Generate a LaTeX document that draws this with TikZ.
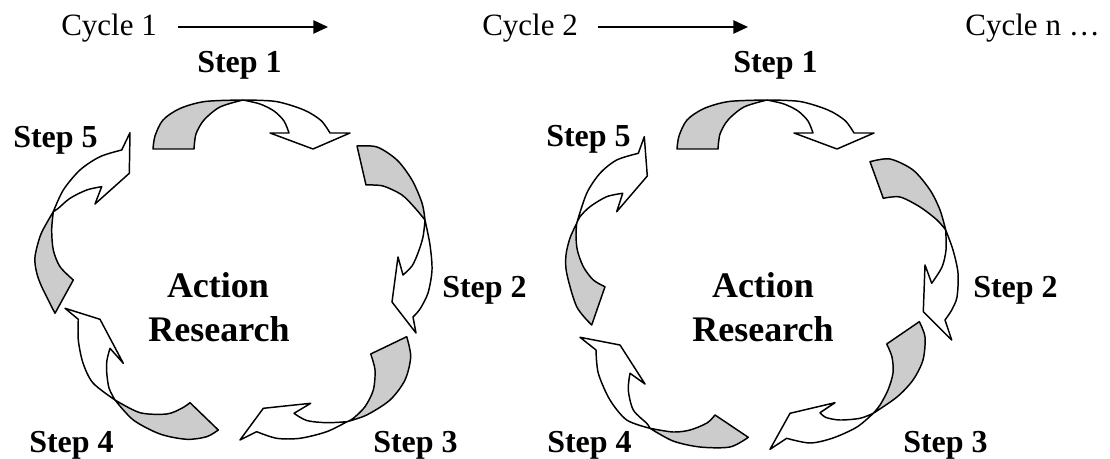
\documentclass[tikz,border=0pt]{standalone}
\usepackage{fontspec}
\setmainfont{Liberation Serif}
\usetikzlibrary{arrows.meta}
\begin{document}
\begin{tikzpicture}[x=0.75pt,y=-0.75pt,
  back/.style={draw=black,line width=1.1pt,line join=round,fill=black!20},
  front/.style={draw=black,line width=1.1pt,line join=round,fill=white},
  steplabel/.style={font=\fontsize{24}{28}\selectfont\bfseries,inner sep=0pt,anchor=base west},
  centerlabel/.style={font=\fontsize{27}{32}\selectfont\bfseries,inner sep=0pt,anchor=base},
  cyclelabel/.style={font=\fontsize{23.25}{28}\selectfont,inner sep=0pt,anchor=base west},
  cyclearrow/.style={line width=1.1pt,-{Triangle[length=11pt,width=10pt]}}]
\useasboundingbox (0,0) rectangle (1110,459);

% ---------- top row ----------
\node[cyclelabel] (cy1) at (61,36) {Cycle 1};
\node[cyclelabel] (cy2) at (482,36) {Cycle 2};
\node[cyclelabel,anchor=base east] (cyn) at (1100,36) {Cycle n \ldots};
\coordinate (a1s) at (178,27);
\coordinate (a1e) at (328,27);
\coordinate (a2s) at (598,27);
\coordinate (a2e) at (748,27);
\draw[cyclearrow] (a1s) -- (a1e);
\draw[cyclearrow] (a2s) -- (a2e);

% ---------- circle 1 ----------
% arrow 1
\path[back] plot[smooth] coordinates {(243,100) (205,101.5) (180,108.5) (163,120) (155,136) (153,149)}
  -- (194,149) -- plot[smooth] coordinates {(194,149) (196,134) (204,120) (220,107) (243,100)} -- cycle;
\path[front] plot[smooth] coordinates {(243,100) (276,101.5) (304,110) (321,120.5) (330,133)}
  -- (350,133) -- (313,149) -- (270,133) -- (289,133)
  -- plot[smooth] coordinates {(289,133) (284,121) (274,111) (260,104) (243,100)} -- cycle;
% arrow 2
\path[back] plot[smooth] coordinates {(425,220) (422,203) (412,180) (397,160) (377,147) (357,146)}
  -- (366,185) -- plot[smooth] coordinates {(366,185) (383,186) (402,195) (415,208) (425,220)} -- cycle;
\path[front] plot[smooth] coordinates {(425,220) (430,245) (432,270) (428,293) (420,309) (413,317)}
  -- (416,333) -- (392,302) -- (398,257) -- (403,275)
  -- plot[smooth] coordinates {(403,275) (412,266) (418,253) (423,237) (425,220)} -- cycle;
% arrow 3
\path[back] plot[smooth] coordinates {(347,421.7) (366.7,415) (390,400) (405,380) (410.7,356.7) (406.7,336.7)}
  -- (370.7,354) -- plot[smooth] coordinates {(370.7,354) (375,370) (373.3,390) (365,406.7) (353.3,418.3) (347,421.7)} -- cycle;
\path[front] plot[smooth] coordinates {(347,421.7) (326.7,431.7) (300,438.3) (276.7,438.3) (256.7,431.7)}
  -- (240,440) -- (263.3,408.3) -- (310.7,403.3) -- (294,413.3)
  -- plot[smooth] coordinates {(294,413.3) (306.7,420.5) (326.7,422.7) (347,421.7)} -- cycle;
% arrow 4
\path[back] plot[smooth] coordinates {(115,400) (140,412.7) (166.7,414) (181.7,408.3) (190,402.7)}
  -- (218.3,430) -- plot[smooth] coordinates {(218.3,430) (206.7,436.7) (186.7,439.3) (160,434) (133.3,420) (115,400)} -- cycle;
\path[front] plot[smooth] coordinates {(115,400) (93,383) (83,363) (78.3,340) (78.3,319.3)}
  -- (65,308.3) -- (100,319.3) -- (123.3,363.3) -- (110,348.3)
  -- plot[smooth] coordinates {(110,348.3) (107,360) (106.7,372) (109,388) (115,400)} -- cycle;
% arrow 5
\path[back] plot[smooth] coordinates {(53.3,211.7) (41,234) (35,256.7) (36.5,272) (41.7,286.7) (55,313.3)}
  -- (73.3,280) -- plot[smooth] coordinates {(73.3,280) (60,266.7) (53.3,250) (51.7,230) (53.3,211.7)} -- cycle;
\path[front] plot[smooth] coordinates {(53.3,211.7) (63.3,190) (80,170) (100,156.7) (121.7,150)}
  -- (130,132.7) -- (129.3,173.3) -- (95,204) -- (101.7,186.7)
  -- plot[smooth] coordinates {(101.7,186.7) (86.7,190) (70,198.3) (58.3,208.3) (53.3,211.7)} -- cycle;

\node[steplabel] (s11) at (197,73) {Step 1};
\node[steplabel] (s12) at (442,298) {Step 2};
\node[steplabel] (s13) at (373,452) {Step 3};
\node[steplabel] (s14) at (29,452) {Step 4};
\node[steplabel] (s15) at (13,148) {Step 5};
\node[centerlabel] (ca1) at (218,298) {Action};
\node[centerlabel] (cr1) at (219,342) {Research};

% ---------- circle 2 ----------
% arrow 1 (same as circle 1, shifted)
\begin{scope}[xshift=393pt]
\path[back] plot[smooth] coordinates {(243,100) (205,101.5) (180,108.5) (163,120) (155,136) (153,149)}
  -- (194,149) -- plot[smooth] coordinates {(194,149) (196,134) (204,120) (220,107) (243,100)} -- cycle;
\path[front] plot[smooth] coordinates {(243,100) (276,101.5) (304,110) (321,120.5) (330,133)}
  -- (350,133) -- (313,149) -- (270,133) -- (289,133)
  -- plot[smooth] coordinates {(289,133) (284,121) (274,111) (260,104) (243,100)} -- cycle;
\end{scope}
% arrow 2
\path[back] plot[smooth] coordinates {(945.7,230) (940,210) (930,190) (913,170) (890,159) (870,161.7)}
  -- (883.3,198.3) -- plot[smooth] coordinates {(883.3,198.3) (900,197) (920,207) (937,220) (945.7,230)} -- cycle;
\path[front] plot[smooth] coordinates {(945.7,230) (953,250) (958,273) (957,297) (951.7,310) (945,320)}
  -- (951.7,340) -- (923.3,311.7) -- (925,265) -- (931.7,283.3)
  -- plot[smooth] coordinates {(931.7,283.3) (942,267) (946,250) (945.7,230)} -- cycle;
% arrow 3
\path[back] plot[smooth] coordinates {(873.3,413.3) (897,397) (913,380) (923,360) (925,337) (919.3,321.7)}
  -- (886.7,344) -- plot[smooth] coordinates {(886.7,344) (892,357) (893,373) (888,390) (880,405) (873.3,413.3)} -- cycle;
\path[front] plot[smooth] coordinates {(873.3,413.3) (857,427) (833,438) (810,443) (786.7,438.3)}
  -- (770,449.3) -- (790,413.3) -- (835,402.7) -- (820,412.7)
  -- plot[smooth] coordinates {(820,412.7) (826,417.5) (840,420) (860,418.3) (873.3,413.3)} -- cycle;
% arrow 4
\path[back] plot[smooth] coordinates {(650,428.3) (673,432) (690,430) (707,423) (715,415)}
  -- (748.3,437.3) -- plot[smooth] coordinates {(748.3,437.3) (730,447) (700,447) (673,441) (650,428.3)} -- cycle;
\path[front] plot[smooth] coordinates {(650,428.3) (626.7,420) (610,400) (598.3,373.3) (596,350)}
  -- (580,337.3) -- (620,345) -- (645,384) -- (630,373.3)
  -- plot[smooth] coordinates {(630,373.3) (628.3,390) (633.3,410) (646.7,423.3) (650,428.3)} -- cycle;
% arrow 5
\path[back] plot[smooth] coordinates {(576.7,223.3) (570,238) (566,255) (566.7,273.3) (576.7,306.7) (591.7,325)}
  -- (605,286.7) -- plot[smooth] coordinates {(605,286.7) (593.3,280) (583.3,266.7) (577.3,250) (576,235) (576.7,223.3)} -- cycle;
\path[front] plot[smooth] coordinates {(576.7,223.3) (586.7,193.3) (600,173.3) (616.7,160) (638.3,153.3)}
  -- (644.3,136.7) -- (647.3,176) -- (616.7,211.7) -- (622.7,193.3)
  -- plot[smooth] coordinates {(622.7,193.3) (606.7,196.7) (590,206.7) (580,216.7) (576.7,223.3)} -- cycle;

\node[steplabel] (s21) at (733,73) {Step 1};
\node[steplabel] (s22) at (973,298) {Step 2};
\node[steplabel] (s23) at (903,452) {Step 3};
\node[steplabel] (s24) at (547,452) {Step 4};
\node[steplabel] (s25) at (546,147) {Step 5};
\node[centerlabel] (ca2) at (763,298) {Action};
\node[centerlabel] (cr2) at (763,342) {Research};
\end{tikzpicture}
\end{document}
